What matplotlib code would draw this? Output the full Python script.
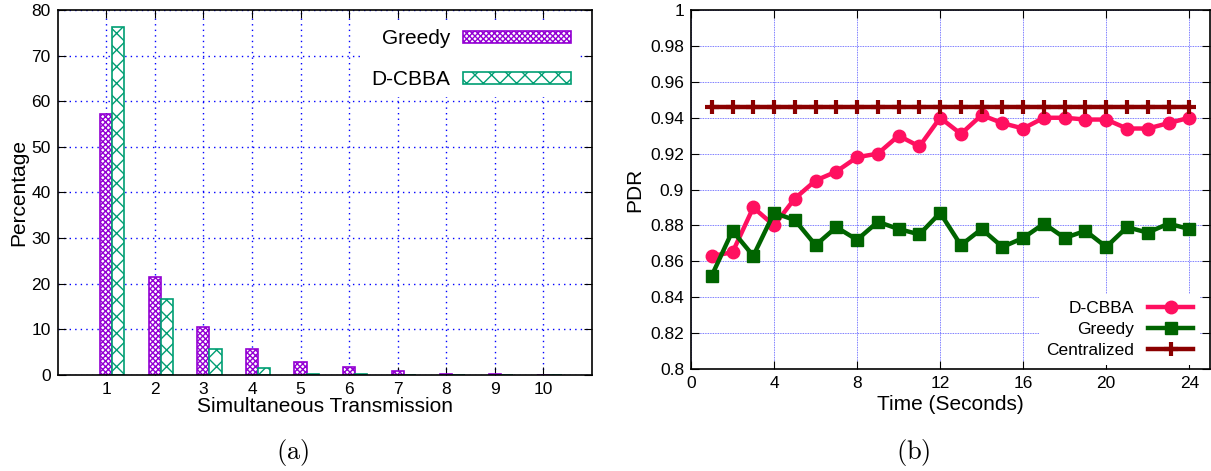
import matplotlib
matplotlib.use('Agg')
import matplotlib.pyplot as plt
from matplotlib.ticker import FuncFormatter

# fonts: helvetica-like for the plots, computer modern for the (a)/(b) captions
plt.rcParams['font.family'] = ['Liberation Sans', 'DejaVu Sans']
plt.rcParams['mathtext.fontset'] = 'cm'
plt.rcParams['hatch.linewidth'] = 1.0

# (a) share of simultaneous transmissions
transmissions = [1, 2, 3, 4, 5, 6, 7, 8, 9, 10]
greedy_pct = [57.2, 21.4, 10.6, 5.8, 2.8, 1.7, 0.9, 0.3, 0.15, 0.1]
dcbba_pct = [76.3, 16.6, 5.6, 1.6, 0.2, 0.2, 0.05, 0.0, 0.0, 0.0]

# (b) PDR over time
time_s = [1, 2, 3, 4, 5, 6, 7, 8, 9, 10, 11, 12,
          13, 14, 15, 16, 17, 18, 19, 20, 21, 22, 23, 24]
pdr_dcbba = [0.863, 0.865, 0.890, 0.880, 0.895, 0.905, 0.910, 0.918, 0.920, 0.930, 0.924, 0.940,
             0.931, 0.9415, 0.937, 0.934, 0.940, 0.940, 0.939, 0.939, 0.934, 0.934, 0.937, 0.940]
pdr_greedy = [0.852, 0.877, 0.863, 0.887, 0.883, 0.869, 0.879, 0.872, 0.882, 0.878, 0.875, 0.887,
              0.869, 0.878, 0.868, 0.873, 0.881, 0.873, 0.877, 0.868, 0.879, 0.876, 0.881, 0.878]
pdr_central = [0.946, 0.946, 0.946, 0.946, 0.946, 0.946, 0.946, 0.946, 0.946, 0.946, 0.946, 0.946,
               0.946, 0.946, 0.946, 0.946, 0.946, 0.946, 0.946, 0.946, 0.946, 0.946, 0.946, 0.946]

fig = plt.figure(figsize=(12.11, 4.71), dpi=100)
ax1 = fig.add_axes([0.0476, 0.2038, 0.4413, 0.775])
ax2 = fig.add_axes([0.5706, 0.2166, 0.4286, 0.762])

# ---- left: bars
bw = 0.25
ax1.bar(transmissions, greedy_pct, width=bw, facecolor='white', edgecolor='#9400D3',
        hatch='xxxxxx', linewidth=1.2, label='Greedy', zorder=2)
ax1.bar([t + bw for t in transmissions], dcbba_pct, width=bw, facecolor='white',
        edgecolor='#009E73', hatch='xx', linewidth=1.2, label='D-CBBA', zorder=2)
ax1.set_xlim(0, 11)
ax1.set_ylim(0, 80)
ax1.set_xticks(transmissions)
ax1.set_yticks(range(0, 81, 10))
ax1.set_axisbelow(True)
ax1.grid(True, color='#0000ff', linestyle=(0, (1, 3)), linewidth=1.0)
ax1.tick_params(direction='in', top=True, right=True, length=6, labelsize=12.5, pad=5)
ax1.set_xlabel('Simultaneous Transmission', fontsize=15, labelpad=0)
ax1.set_ylabel('Percentage', fontsize=15, labelpad=2)
ax1.legend(loc='upper right', bbox_to_anchor=(0.977, 0.97), borderaxespad=0,
           fontsize=15, markerfirst=False, handlelength=5.2, handleheight=0.5,
           handletextpad=0.6, labelspacing=1.05, fancybox=False,
           frameon=True, facecolor='white', edgecolor='none', framealpha=1)

# ---- right: lines
ax2.plot(time_s, pdr_dcbba, color='#FF1060', lw=3.2, marker='o', ms=9, label='D-CBBA', zorder=3)
ax2.plot(time_s, pdr_greedy, color='#006400', lw=3.2, marker='s', ms=9, label='Greedy', zorder=3)
ax2.plot(time_s, pdr_central, color='#8B0000', lw=3.2, marker='+', ms=10, mew=3,
         label='Centralized', zorder=3)
ax2.set_xlim(0, 25)
ax2.set_ylim(0.8, 1.0)
ax2.set_xticks(range(0, 25, 4))
ax2.set_yticks([0.8 + 0.02 * i for i in range(11)])
ax2.yaxis.set_major_formatter(FuncFormatter(lambda v, p: '%g' % round(v, 2)))
ax2.set_axisbelow(True)
ax2.grid(True, color='#5050ff', linestyle=(0, (1, 1)), linewidth=0.6)
ax2.tick_params(direction='in', top=True, right=True, length=6, labelsize=12.5, pad=5)
ax2.set_xlabel('Time (Seconds)', fontsize=15, labelpad=3)
ax2.set_ylabel('PDR', fontsize=15, labelpad=4)
ax2.legend(loc='lower right', bbox_to_anchor=(0.981, 0.011), borderaxespad=0,
           fontsize=12.5, markerfirst=False, handlelength=2.6,
           labelspacing=0.35, fancybox=False, frameon=True,
           facecolor='white', edgecolor='none', framealpha=1)

for ax in (ax1, ax2):
    for s in ax.spines.values():
        s.set_linewidth(1.2)

fig.text(293 / 1211, 1 - 453 / 471, r'$\mathrm{(a)}$', fontsize=19, ha='center', va='center')
fig.text(913 / 1211, 1 - 453 / 471, r'$\mathrm{(b)}$', fontsize=19, ha='center', va='center')

fig.savefig('out.png', dpi=100)
